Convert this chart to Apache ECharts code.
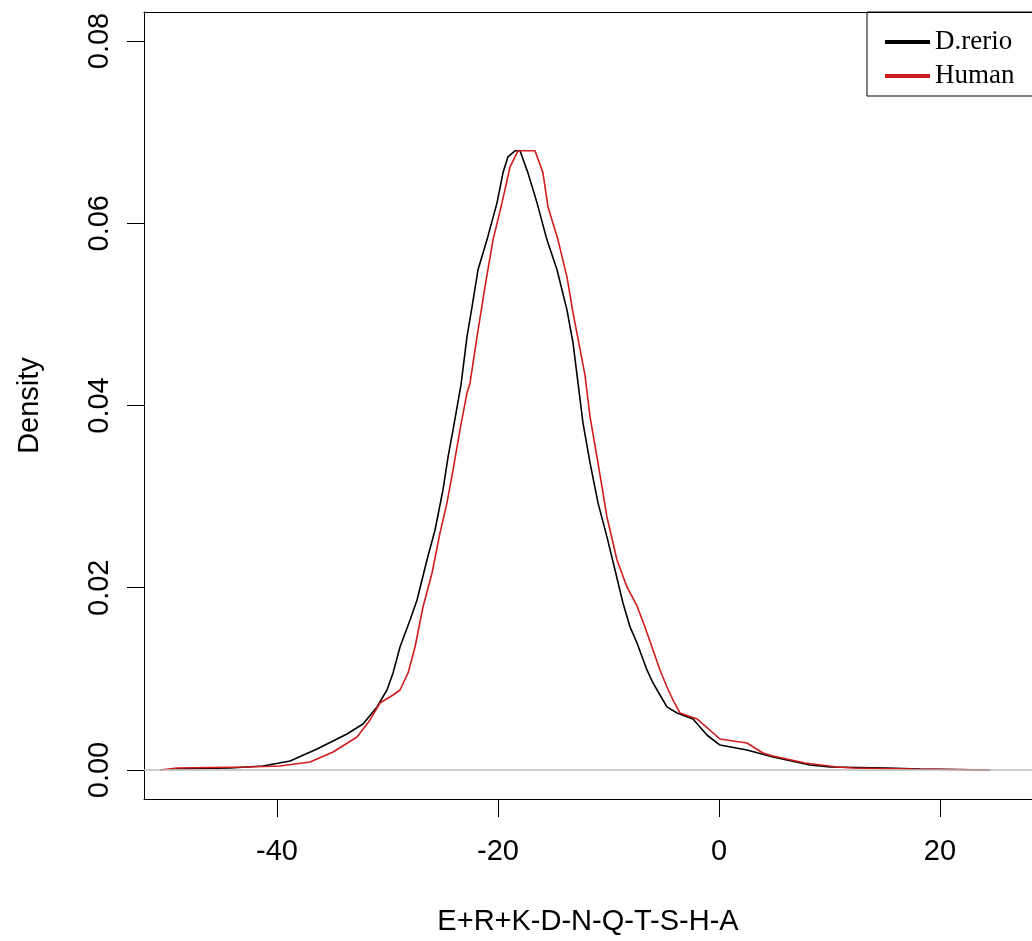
<!DOCTYPE html>
<html>
<head>
<meta charset="utf-8">
<script src="https://cdn.jsdelivr.net/npm/echarts@6/dist/echarts.min.js"></script>
<style>
html,body{margin:0;padding:0;background:#fff;}
#chart{width:1032px;height:941px;}
</style>
</head>
<body>
<div id="chart"></div>
<script>
const seriesNames = ['D.rerio', 'Human'];
const xTicks = [-40, -20, 0, 20];
const yTicks = [0, 0.02, 0.04, 0.06, 0.08];
const xTitle = 'E+R+K-D-N-Q-T-S-H-A';
const yTitle = 'Density';

const drerioX = [-49.68,-44.25,-41.27,-38.82,-36.38,-33.67,-32.22,-30.95,-30.05,-29.50,-28.87,-27.96,-27.33,-26.43,-25.70,-24.98,-24.52,-24.07,-23.35,-22.81,-22.35,-21.81,-21.00,-20.09,-19.55,-19.10,-18.46,-18.01,-17.29,-16.47,-15.57,-14.66,-13.76,-13.21,-12.76,-12.31,-11.67,-10.95,-10.14,-9.41,-8.69,-8.05,-7.42,-6.52,-5.97,-5.34,-4.71,-3.80,-2.35,-1.09,0.09,2.53,4.89,8.24,10.05,15.20,18.19,24.52];
const drerioY = [0.00011,0.00022,0.00044,0.00099,0.00231,0.00395,0.00505,0.00692,0.00878,0.01065,0.01350,0.01647,0.01866,0.02305,0.02634,0.03074,0.03436,0.03732,0.04226,0.04753,0.05082,0.05489,0.05818,0.06224,0.06553,0.06729,0.06795,0.06795,0.06553,0.06224,0.05818,0.05489,0.05049,0.04687,0.04248,0.03809,0.03370,0.02931,0.02558,0.02195,0.01833,0.01570,0.01394,0.01098,0.00955,0.00823,0.00692,0.00626,0.00560,0.00384,0.00274,0.00220,0.00143,0.00055,0.00033,0.00022,0.00011,0.0];

const humanX = [-50.59,-49.05,-42.71,-39.73,-37.01,-34.93,-32.76,-31.58,-30.68,-29.50,-28.87,-28.14,-27.51,-26.79,-25.97,-25.25,-24.62,-24.07,-23.44,-22.81,-22.53,-21.90,-21.18,-20.45,-19.64,-18.91,-18.19,-16.65,-15.93,-15.48,-14.57,-13.76,-13.21,-12.13,-11.67,-10.95,-10.14,-9.23,-8.33,-7.42,-6.70,-5.97,-5.34,-4.71,-4.16,-3.53,-1.99,0.09,2.53,3.98,4.89,7.78,10.68,12.13,17.56,24.52];
const humanY = [0.0,0.00022,0.00033,0.00044,0.00088,0.00198,0.00362,0.00549,0.00735,0.00823,0.00878,0.01065,0.01350,0.01789,0.02162,0.02602,0.02931,0.03293,0.03732,0.04138,0.04248,0.04753,0.05302,0.05818,0.06224,0.06619,0.06795,0.06795,0.06553,0.06180,0.05818,0.05412,0.05017,0.04336,0.03875,0.03370,0.02777,0.02305,0.02009,0.01800,0.01570,0.01317,0.01098,0.00911,0.00768,0.00626,0.00560,0.00340,0.00296,0.00187,0.00154,0.00077,0.00033,0.00022,0.00011,0.0];

const zip = (xs, ys) => xs.map((x, i) => [x, ys[i]]);

const chart = echarts.init(document.getElementById('chart'));
const sans = '"Liberation Sans", Arial, sans-serif';
const xMin = -52.04, xMax = 28.33, yMin = -0.003183, yMax = 0.083183;

chart.setOption({
  animation: false,
  backgroundColor: '#fff',
  grid: {left: 144, top: 12, right: 0, bottom: 142, show: false},
  legend: {
    data: seriesNames,
    orient: 'vertical',
    left: 867, top: 12,
    icon: 'rect',
    itemWidth: 45, itemHeight: 4,
    itemGap: 0,
    padding: [13, 30, 3, 18],
    borderColor: '#000', borderWidth: 1,
    textStyle: {fontFamily: '"Liberation Serif", "Times New Roman", serif', fontSize: 27, color: '#000', lineHeight: 34, padding: [0,0,0,0]}
  },
  xAxis: [{
    type: 'value', min: xMin, max: xMax, position: 'bottom',
    name: xTitle, nameLocation: 'middle', nameGap: 108,
    nameTextStyle: {fontFamily: sans, fontSize: 29, color: '#000'},
    axisLine: {show: true, onZero: false, lineStyle: {color: '#000', width: 1}},
    axisTick: {show: true, length: 18, customValues: xTicks, lineStyle: {color: '#000'}},
    axisLabel: {customValues: xTicks, margin: 38, fontFamily: sans, fontSize: 29, color: '#000'},
    splitLine: {show: false}
  }, {
    type: 'value', min: xMin, max: xMax, position: 'top',
    axisLine: {show: true, onZero: false, lineStyle: {color: '#000', width: 1}},
    axisTick: {show: false}, axisLabel: {show: false}, splitLine: {show: false}
  }],
  yAxis: {
    type: 'value', min: yMin, max: yMax,
    name: yTitle, nameLocation: 'middle', nameGap: 100,
    nameTextStyle: {fontFamily: sans, fontSize: 29, color: '#000'},
    axisLine: {show: true, onZero: false, lineStyle: {color: '#000', width: 1}},
    axisTick: {show: true, length: 17, customValues: yTicks, lineStyle: {color: '#000'}},
    axisLabel: {customValues: yTicks, rotate: 90, margin: 30, fontFamily: sans, fontSize: 29, color: '#000',
      formatter: v => v.toFixed(2)},
    splitLine: {show: false}
  },
  series: [{
    name: seriesNames[0], type: 'line', data: zip(drerioX, drerioY),
    showSymbol: false, symbol: 'none', color: '#000',
    lineStyle: {color: '#000', width: 1.6},
    markLine: {silent: true, symbol: 'none', label: {show: false},
      lineStyle: {color: '#bebebe', width: 1.5, type: 'solid'}, data: [{yAxis: 0}]},
    z: 2
  }, {
    name: seriesNames[1], type: 'line', data: zip(humanX, humanY),
    showSymbol: false, symbol: 'none', color: '#d01c1c',
    lineStyle: {color: '#d01c1c', width: 1.6},
    z: 3
  }]
});
</script>
</body>
</html>
